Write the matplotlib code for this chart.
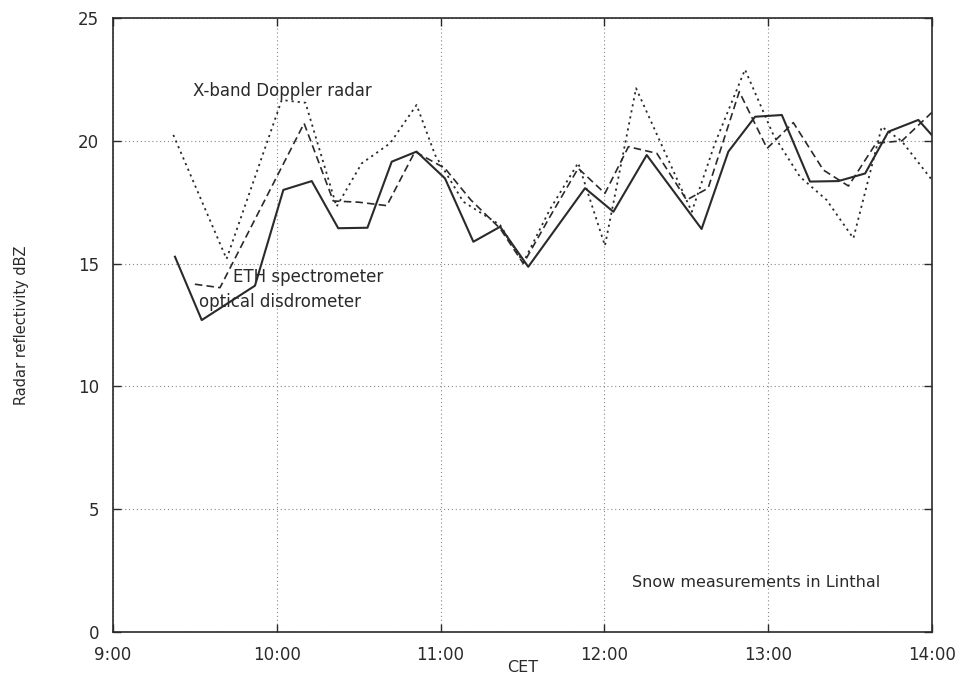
import matplotlib.pyplot as plt
import numpy as np

# Sample times in minutes after 9:00 CET, reflectivity in dBZ
xband_min = [22.1, 41.6, 61.8, 70.5, 81.9, 91.1, 101.5, 111.2, 118.0, 128.3, 141.8,
             150.3, 160.0, 170.4, 180.2, 191.6, 212.0, 220.5, 231.5, 241.9, 251.6,
             261.4, 271.2, 281.6, 288.9, 300.0]
xband_dbz = [20.24, 15.19, 21.66, 21.55, 17.32, 19.08, 19.90, 21.46, 19.42, 17.52, 16.57,
             15.05, 17.20, 19.10, 15.73, 22.14, 17.11, 19.90, 22.90, 20.24, 18.54,
             17.59, 16.03, 20.57, 19.99, 18.40]

eth_min = [30.0, 39.2, 70.0, 80.7, 90.0, 100.3, 110.6, 121.6, 131.0, 141.8, 150.3,
           160.0, 170.4, 180.2, 188.8, 199.2, 210.1, 218.0, 229.4, 239.6, 249.2,
           260.2, 269.4, 279.5, 289.0, 300.0]
eth_dbz = [14.16, 14.02, 20.71, 17.55, 17.50, 17.36, 19.56, 18.88, 17.60, 16.43, 15.00,
           16.90, 18.88, 17.86, 19.76, 19.49, 17.59, 18.07, 22.00, 19.69, 20.74,
           18.81, 18.16, 19.90, 20.00, 21.16]

optical_min = [22.7, 32.5, 52.0, 62.4, 72.8, 82.5, 93.2, 102.1, 111.2, 121.6, 132.0,
               141.8, 152.1, 172.9, 183.3, 195.5, 215.6, 225.4, 235.2, 245.0, 255.3,
               265.7, 275.5, 284.0, 295.0, 305.0]
optical_dbz = [15.28, 12.70, 14.10, 18.00, 18.36, 16.44, 16.46, 19.15, 19.56, 18.47, 15.89,
               16.50, 14.87, 18.07, 17.11, 19.42, 16.41, 19.56, 20.98, 21.05, 18.34,
               18.36, 18.67, 20.37, 20.85, 19.60]

hour_ticks = [9, 10, 11, 12, 13, 14]
hour_labels = ['9:00', '10:00', '11:00', '12:00', '13:00', '14:00']
dbz_ticks = [0, 5, 10, 15, 20, 25]


def to_hours(minutes):
    return 9 + np.array(minutes) / 60.0


fig = plt.figure(figsize=(9.56, 6.77), dpi=100)
ax = fig.add_axes([0.1182, 0.0665, 0.8567, 0.9069])

ink = '#2a2a2a'
ax.plot(to_hours(xband_min), xband_dbz, color=ink, lw=1.3, linestyle=(0, (1.2, 2.2)))
ax.plot(to_hours(eth_min), eth_dbz, color=ink, lw=1.2, linestyle=(0, (4.5, 2.5)))
ax.plot(to_hours(optical_min), optical_dbz, color=ink, lw=1.5, linestyle='-')

# Curve labels placed next to the lines
ax.text(to_hours(29.3), 22.03, 'X-band Doppler radar', fontsize=12, color=ink, va='center')
ax.text(to_hours(44.0), 14.45, 'ETH spectrometer', fontsize=12, color=ink, va='center')
ax.text(to_hours(31.5), 13.44, 'optical disdrometer', fontsize=12, color=ink, va='center')
ax.text(to_hours(190.1), 2.0, 'Snow measurements in Linthal', fontsize=11.5, color=ink,
        va='center')

ax.set_xlim(9, 14)
ax.set_ylim(0, 25)
ax.set_xticks(hour_ticks)
ax.set_xticklabels(hour_labels)
ax.set_yticks(dbz_ticks)
ax.tick_params(direction='in', length=6, width=1, top=True, right=True,
               labelsize=12, colors=ink)
ax.tick_params(axis='x', pad=10)
ax.tick_params(axis='y', pad=10)

ax.grid(True, color='#888888', lw=0.8, linestyle=(0, (1, 2.5)))
for s in ax.spines.values():
    s.set_color(ink)
    s.set_linewidth(1.2)

ax.set_xlabel('CET', fontsize=11.5, color=ink, labelpad=-3)
ax.set_ylabel('Radar reflectivity dBZ', fontsize=10.5, color=ink, labelpad=35)

fig.savefig('out.png', dpi=100)
